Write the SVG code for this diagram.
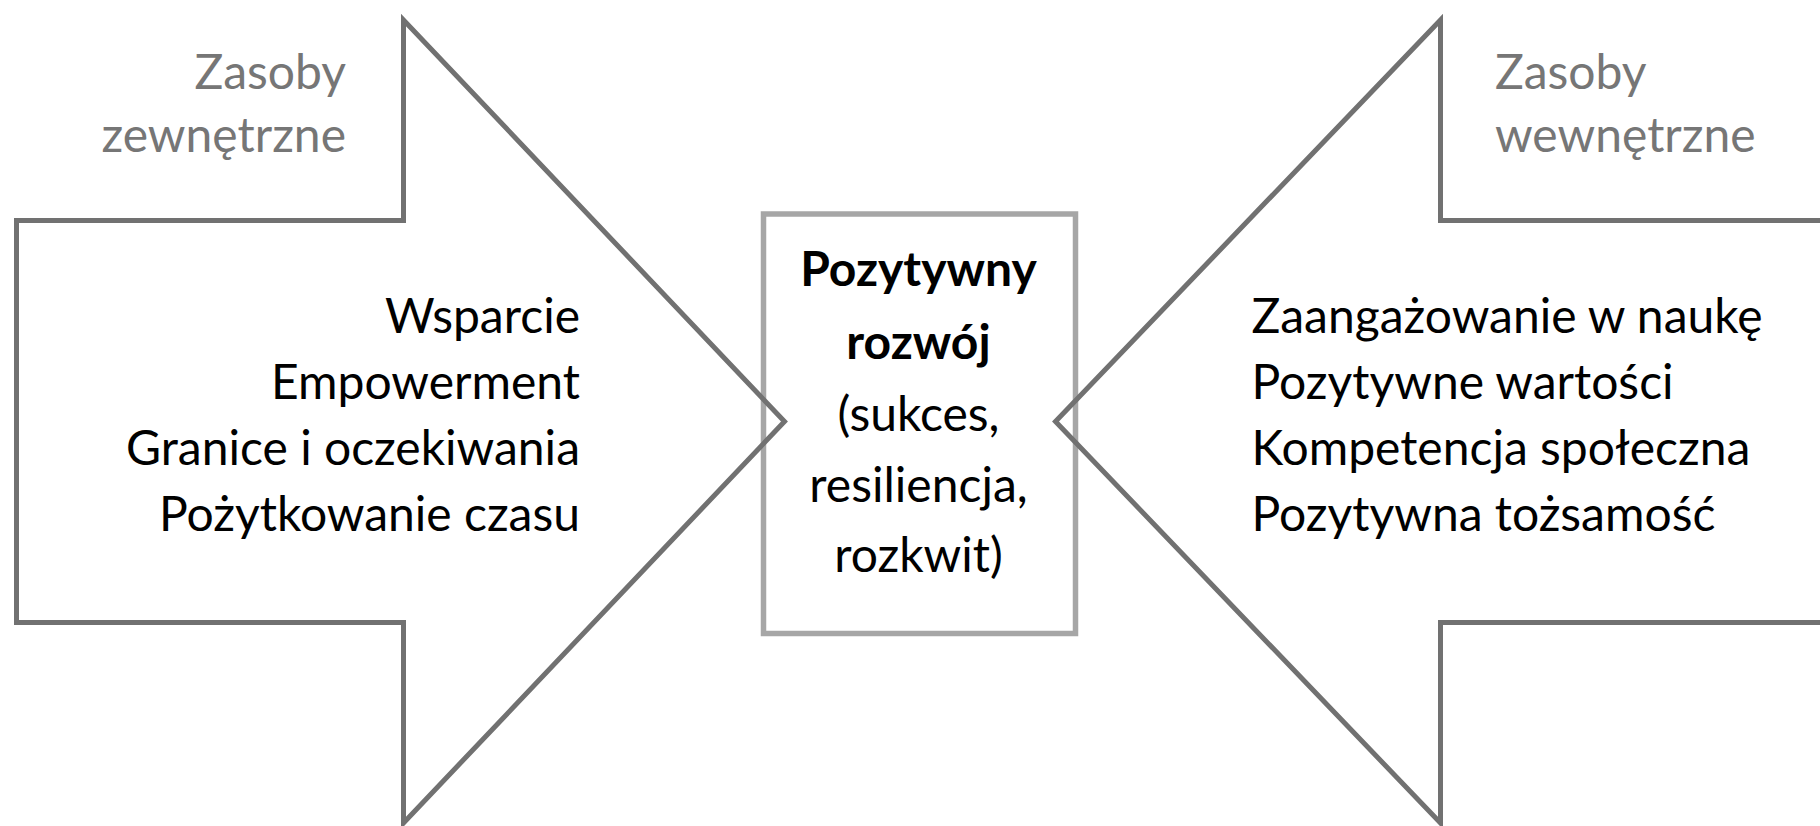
<svg xmlns="http://www.w3.org/2000/svg" width="1820" height="826" viewBox="0 0 1820 826">
  <style>
    .bg { fill: #ffffff; }
    .arrow { fill: none; stroke: #717171; stroke-width: 5; stroke-linejoin: miter; stroke-miterlimit: 10; }
    .core { fill: #ffffff; stroke: #a6a6a6; stroke-width: 5.5; }
    text { font-family: Lato, "Open Sans", "Liberation Sans", sans-serif; font-size: 48px; }
    .head { fill: #767676; }
    .item { fill: #000000; }
    .bold { font-weight: 700; }
    .l { text-anchor: end; }
    .r { text-anchor: start; }
    .c { text-anchor: middle; }
  </style>

  <rect class="bg" x="0" y="0" width="1820" height="826"/>

  <!-- central result box -->
  <g id="positive-development">
    <rect class="core" x="763.5" y="214" width="312" height="419.5"/>
    <text class="item c bold" x="918.5" y="286">Pozytywny</text>
    <text class="item c bold" x="918.5" y="359">rozwój</text>
    <text class="item c" x="918.5" y="431">(sukces,</text>
    <text class="item c" x="918.5" y="502">resiliencja,</text>
    <text class="item c" x="918.5" y="572">rozkwit)</text>
  </g>

  <!-- left block arrow: external resources -->
  <g id="external-resources">
    <path class="arrow" d="M16.5,220.5 H403.5 V20 L784.5,421.5 L403.5,823 V622.5 H16.5 Z"/>
    <text class="head l" x="346" y="89">Zasoby</text>
    <text class="head l" x="346" y="152">zewnętrzne</text>
    <text class="item l" x="580" y="333">Wsparcie</text>
    <text class="item l" x="580" y="399">Empowerment</text>
    <text class="item l" x="580" y="465">Granice i oczekiwania</text>
    <text class="item l" x="580" y="531">Pożytkowanie czasu</text>
  </g>

  <!-- right block arrow: internal resources -->
  <g id="internal-resources">
    <path class="arrow" d="M1830,220.5 H1440.5 V20 L1055.5,421.5 L1440.5,823 V622.5 H1830 Z"/>
    <text class="head r" x="1495" y="89">Zasoby</text>
    <text class="head r" x="1495" y="152">wewnętrzne</text>
    <text class="item r" x="1251.5" y="333">Zaangażowanie w naukę</text>
    <text class="item r" x="1251.5" y="399">Pozytywne wartości</text>
    <text class="item r" x="1251.5" y="465">Kompetencja społeczna</text>
    <text class="item r" x="1251.5" y="531">Pozytywna tożsamość</text>
  </g>
</svg>
